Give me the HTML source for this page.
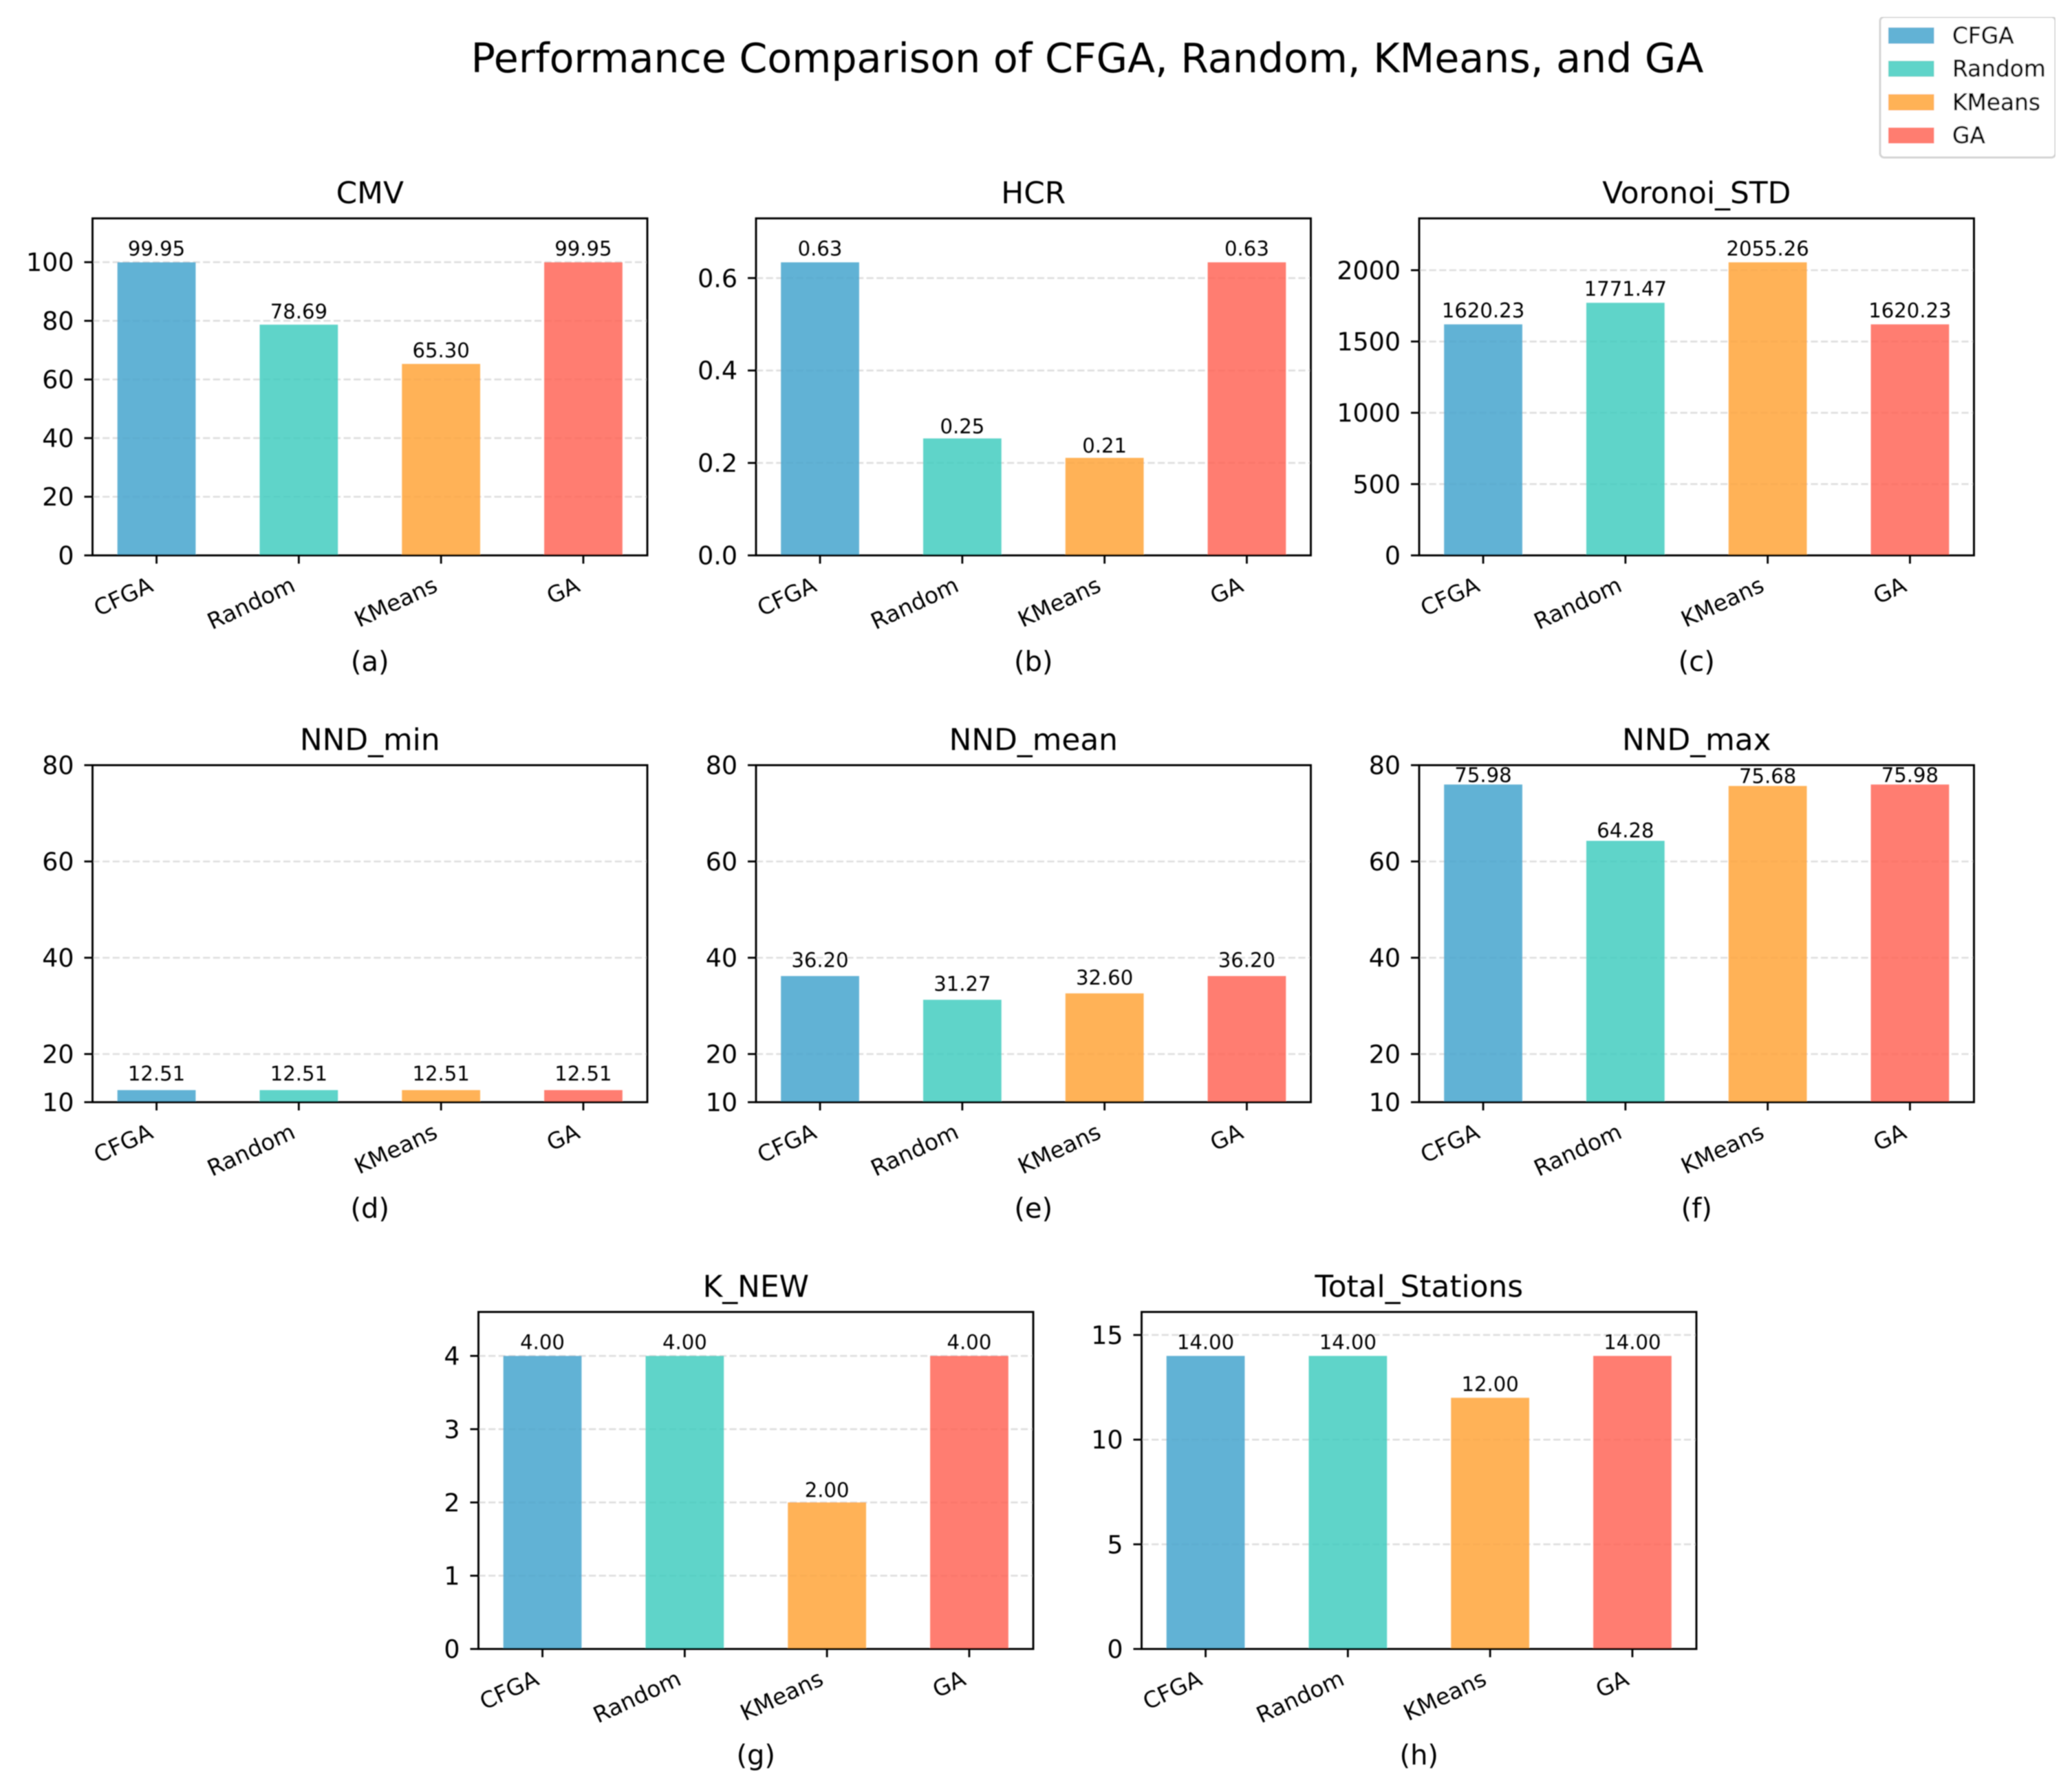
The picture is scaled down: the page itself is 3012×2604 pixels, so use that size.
<!DOCTYPE html>
<html lang="en">
<head>
<meta charset="utf-8">
<title>Performance Comparison of CFGA, Random, KMeans, and GA</title>
<style>
html,body{margin:0;padding:0;background:#fff;}
svg{display:block;}
text{font-family:"DejaVu Sans","Liberation Sans",sans-serif;fill:#000;}
</style>
</head>
<body>
<svg id="figure" xmlns="http://www.w3.org/2000/svg" width="3012" height="2604" viewBox="0 0 3012 2604">
  <defs>
    <filter id="soft" x="0" y="0" width="100%" height="100%" filterUnits="objectBoundingBox"><feGaussianBlur stdDeviation="0.7"/></filter>
  </defs>
  <rect x="0" y="0" width="3012" height="2604" fill="#ffffff"/>
  <g id="root" filter="url(#soft)">
    <text x="1580.5" y="105" font-size="58.6" text-anchor="middle">Performance Comparison of CFGA, Random, KMeans, and GA</text>
    <g>
      <rect x="2733" y="24.5" width="255" height="204.5" rx="6" fill="#ffffff" stroke="#d4d4d4" stroke-width="3"/>
      <rect x="2745" y="40" width="66.5" height="23.5" fill="#47A4CE" fill-opacity="0.85"/>
      <text x="2838" y="63" font-size="32.8" stroke="#000" stroke-width="0.5">CFGA</text>
      <rect x="2745" y="88.5" width="66.5" height="23" fill="#42CDC0" fill-opacity="0.85"/>
      <text x="2838" y="111" font-size="32.8" stroke="#000" stroke-width="0.5">Random</text>
      <rect x="2745" y="137" width="66.5" height="23.5" fill="#FFA539" fill-opacity="0.85"/>
      <text x="2838" y="160" font-size="32.8" stroke="#000" stroke-width="0.5">KMeans</text>
      <rect x="2745" y="185.5" width="66.5" height="23" fill="#FF6657" fill-opacity="0.85"/>
      <text x="2838" y="208" font-size="32.8" stroke="#000" stroke-width="0.5">GA</text>
    </g>
  </g>
</svg>
<script>
const categories = ["CFGA", "Random", "KMeans", "GA"];
const barColors = ["#47A4CE", "#42CDC0", "#FFA539", "#FF6657"];

const cmvValues = [99.95, 78.69, 65.30, 99.95];
const hcrValues = [0.634, 0.253, 0.211, 0.634];
const voronoiValues = [1620.23, 1771.47, 2055.26, 1620.23];
const nndMinValues = [12.51, 12.51, 12.51, 12.51];
const nndMeanValues = [36.20, 31.27, 32.60, 36.20];
const nndMaxValues = [75.98, 64.28, 75.68, 75.98];
const kNewValues = [4, 4, 2, 4];
const totalStationsValues = [14, 14, 12, 14];

const cmvTicks = [0, 20, 40, 60, 80, 100];
const hcrTicks = [0, 0.2, 0.4, 0.6];
const voronoiTicks = [0, 500, 1000, 1500, 2000];
const nndTicks = [10, 20, 40, 60, 80];
const kNewTicks = [0, 1, 2, 3, 4];
const totalStationsTicks = [0, 5, 10, 15];

const panelTitles = ["CMV", "HCR", "Voronoi_STD", "NND_min", "NND_mean", "NND_max", "K_NEW", "Total_Stations"];
const panelLetters = ["(a)", "(b)", "(c)", "(d)", "(e)", "(f)", "(g)", "(h)"];
const panelValues = [cmvValues, hcrValues, voronoiValues, nndMinValues, nndMeanValues, nndMaxValues, kNewValues, totalStationsValues];
const panelTicks = [cmvTicks, hcrTicks, voronoiTicks, nndTicks, nndTicks, nndTicks, kNewTicks, totalStationsTicks];
const panelLefts = [134.5, 1099, 2063, 134.5, 1099, 2063, 695.5, 1659.5];
const panelTops = [317.5, 317.5, 317.5, 1112.5, 1112.5, 1112.5, 1907.5, 1907.5];
const labelGaps = [
  [10, 9, 9.5, 10],
  [10, 7.5, 7.5, 10],
  [10, 10, 10, 10],
  [14, 14, 14, 14],
  [13, 13, 13, 13],
  [3.5, 5, 4.3, 3.5],
  [10, 10, 8, 10],
  [10, 10, 10, 10]
];

const PANEL_W = 806.5, PANEL_H = 490;
const SVG_NS = "http://www.w3.org/2000/svg";
const root = document.getElementById("root");

function mk(parent, tag, attrs, txt) {
  const node = document.createElementNS(SVG_NS, tag);
  for (const k in attrs) node.setAttribute(k, attrs[k]);
  if (txt !== undefined) node.textContent = txt;
  parent.appendChild(node);
  return node;
}

function slug(s) { return s.toLowerCase().replace(/_/g, "-"); }

panelTitles.forEach(function (title, p) {
  const L = panelLefts[p], T = panelTops[p], B = T + PANEL_H, R = L + PANEL_W;
  const values = panelValues[p];
  const ticks = panelTicks[p];
  const isNnd = ticks === nndTicks;
  const hasFractions = ticks.some(function (t) { return t % 1 !== 0; });
  const yMin = isNnd ? 10 : 0;
  const yMax = isNnd ? 80 : Math.max.apply(null, values) * 1.15;
  const xScale = function (i) { return L + (i + 0.45) / 3.9 * PANEL_W; };
  const yScale = function (v) { return B - (v - yMin) / (yMax - yMin) * PANEL_H; };
  const name = slug(title);

  const g = mk(root, "g", {});
  
  

  ticks.forEach(function (t) {
    const y = yScale(t);
    if (t !== yMin && y > T + 1) {
      const grid = mk(g, "line", { x1: L, x2: R, y1: y, y2: y, stroke: "#b0b0b0", "stroke-opacity": 0.42, "stroke-width": 2.6, "stroke-dasharray": "10.2 4.4" });
      
      
    }
  });

  values.forEach(function (v, i) {
    const cx = xScale(i);
    const bw = 0.55 / 3.9 * PANEL_W;
    const y = yScale(v);
    const bar = mk(g, "rect", { x: cx - bw / 2, y: y, width: bw, height: B - y, fill: barColors[i], "fill-opacity": 0.85 });
    
    
    const label = mk(g, "text", { x: cx, y: y - labelGaps[p][i], "font-size": 29.1, "text-anchor": "middle" }, v.toFixed(2));
    
    
  });

  const frame = mk(g, "rect", { x: L, y: T, width: PANEL_W, height: PANEL_H, fill: "none", stroke: "#000", "stroke-width": 2.9 });
  
  

  ticks.forEach(function (t) {
    const y = yScale(t);
    const mark = mk(g, "line", { x1: L - 12, x2: L, y1: y, y2: y, stroke: "#000", "stroke-width": 2.8 });
    
    
    const lbl = mk(g, "text", { x: L - 27, y: y + 13, "font-size": 36.4, "text-anchor": "end" }, hasFractions ? t.toFixed(1) : String(t));
    
    
  });

  categories.forEach(function (c, i) {
    const cx = xScale(i);
    const mark = mk(g, "line", { x1: cx, x2: cx, y1: B, y2: B + 12, stroke: "#000", "stroke-width": 2.8 });
    
    
    const ax = cx - 3, ay = B + 51;
    const lbl = mk(g, "text", { x: ax, y: ay, "font-size": 32.8, "text-anchor": "end", transform: "rotate(-25 " + ax + " " + ay + ")" }, c);
    
    
  });

  const ttl = mk(g, "text", { x: L + PANEL_W / 2, y: T - 22, "font-size": 43.8, "text-anchor": "middle" }, title);
  
  

  const letter = mk(g, "text", { x: L + PANEL_W / 2, y: B + 168, "font-size": 40, "text-anchor": "middle" }, panelLetters[p]);
  
  
});
</script>
</body>
</html>
